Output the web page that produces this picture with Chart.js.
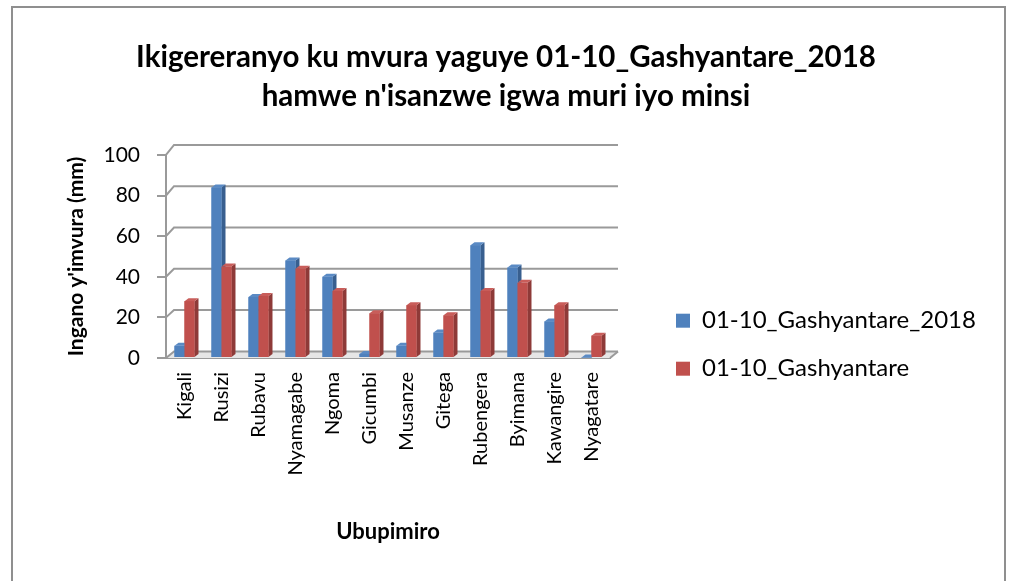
<!DOCTYPE html>
<html>
<head>
<meta charset="utf-8">
<script src="https://cdn.jsdelivr.net/npm/chart.js@4.4.1/dist/chart.umd.min.js"></script>
<style>
	html, body { margin: 0; padding: 0; background: #fff; }
</style>
</head>
<body>
<canvas id="cnv_rain" width="1010" height="581"></canvas>
<script>
// Stations (ubupimiro)
const stations = ['Kigali', 'Rusizi', 'Rubavu', 'Nyamagabe', 'Ngoma', 'Gicumbi', 'Musanze', 'Gitega', 'Rubengera', 'Byimana', 'Kawangire', 'Nyagatare'];
// rain 01-10 Feb 2018 (mm)
const rain2018 = [6, 84, 30, 48, 40, 2, 6, 12.5, 55.5, 44.5, 18, 0.3];
// normal rain for the same days (mm)
const rainNormal = [28, 45, 30.5, 44, 33, 22, 26, 21, 33, 37, 26, 11];
const seriesNames = ['01-10_Gashyantare_2018', '01-10_Gashyantare'];
const yTickValues = [0, 20, 40, 60, 80, 100];

const titleLines = ['Ikigereranyo ku mvura yaguye 01-10_Gashyantare_2018', "hamwe n'isanzwe igwa muri iyo minsi"];

Chart.defaults.font.family = 'Lato';
Chart.defaults.color = '#000';

const gridColor = '#9a9a9a';
//front, side, top colors for the 3d bars
const barColors = [
	{ front: '#4F81BD', side: '#385F8F', top: '#5A8AC4' },
	{ front: '#C0504D', side: '#8E3A38', top: '#C95D5A' }
];

//outer frame of the chart
const framePlugin = {
	id: 'frame',
	beforeDraw(chart) {
		const ctx = chart.ctx;
		ctx.save();
		ctx.fillStyle = '#fff';
		ctx.fillRect(0, 0, chart.width, chart.height);
		ctx.strokeStyle = '#8f8f8f';
		ctx.lineWidth = 2;
		ctx.strokeRect(12, 7, 993, 600);
		ctx.restore();
	}
};

//back wall, floor and the 3d bars
const wallsPlugin = {
	id: 'walls',
	beforeDatasetsDraw(chart) {
		const { ctx, chartArea: { left, right, top, bottom } } = chart;
		const yScale = chart.scales.y;
		const dx = 8;
		const depthY = (py) => -6.6 - 3.4 * (bottom - py) / (bottom - top);
		ctx.save();
		// floor
		const dyB = depthY(bottom);
		ctx.beginPath();
		ctx.moveTo(left, bottom);
		ctx.lineTo(right, bottom);
		ctx.lineTo(right + dx, bottom + dyB);
		ctx.lineTo(left + dx, bottom + dyB);
		ctx.closePath();
		ctx.fillStyle = '#e6e6e6';
		ctx.fill();
		ctx.strokeStyle = gridColor;
		ctx.lineWidth = 2;
		yScale.ticks.forEach(t => {
			const py = yScale.getPixelForValue(t.value);
			const dy = depthY(py);
			ctx.beginPath();
			ctx.moveTo(left, py);
			ctx.lineTo(left + dx, py + dy);
			ctx.lineTo(right + dx, py + dy);
			ctx.stroke();
		});
		ctx.beginPath();
		ctx.moveTo(right, bottom);
		ctx.lineTo(right + dx, bottom + dyB);
		ctx.stroke();
		ctx.restore();
	},
	afterDatasetsDraw(chart) {
		const ctx = chart.ctx;
		const bx = 4, by = 3;
		const metas = [chart.getDatasetMeta(0), chart.getDatasetMeta(1)];
		ctx.save();
		stations.forEach((_, i) => {
			metas.forEach((meta, d) => {
				const el = meta.data[i];
				const { x, y, base, width } = el.getProps(['x', 'y', 'base', 'width'], true);
				const l = x - width / 2, r = x + width / 2;
				const c = barColors[d];
				// side
				ctx.fillStyle = c.side;
				ctx.beginPath();
				ctx.moveTo(r, y); ctx.lineTo(r + bx, y - by); ctx.lineTo(r + bx, base - by); ctx.lineTo(r, base);
				ctx.closePath(); ctx.fill();
				// top
				ctx.fillStyle = c.top;
				ctx.beginPath();
				ctx.moveTo(l, y); ctx.lineTo(l + bx, y - by); ctx.lineTo(r + bx, y - by); ctx.lineTo(r, y);
				ctx.closePath(); ctx.fill();
				// front
				ctx.fillStyle = c.front;
				ctx.fillRect(l, y, width, base - y);
			});
		});
		ctx.restore();
	}
};

const ctx = document.getElementById('cnv_rain').getContext('2d');
const rainChart = new Chart(ctx, {
	type: 'bar',
	plugins: [framePlugin, wallsPlugin],
	data: {
		labels: stations,
		datasets: [{
			label: seriesNames[0],
			data: rain2018,
			backgroundColor: barColors[0].front,
			borderWidth: 0,
			barPercentage: 1,
			categoryPercentage: 0.54
		}, {
			label: seriesNames[1],
			data: rainNormal,
			backgroundColor: barColors[1].front,
			borderWidth: 0,
			barPercentage: 1,
			categoryPercentage: 0.54
		}]
	},
	options: {
		responsive: false,
		animation: false,
		layout: { padding: { left: 34, right: 32, top: 0, bottom: 36 } },
		plugins: {
			tooltip: { enabled: false },
			title: {
				display: true,
				text: titleLines,
				color: '#000',
				font: { size: 29.5, weight: 'bold', lineHeight: 1.32 },
				padding: { top: 38, bottom: 39 }
			},
			legend: {
				position: 'right',
				align: 'center',
				maxWidth: 326,
				title: { display: true, text: '', font: { size: 12 }, padding: { top: 130, bottom: 0 } },
				labels: {
					boxWidth: 14,
					boxHeight: 14,
					padding: 24,
					color: '#000',
					font: { size: 24 }
				}
			}
		},
		scales: {
			x: {
				grid: { drawOnChartArea: false, drawTicks: false },
				border: { color: gridColor, width: 2 },
				ticks: { minRotation: 90, maxRotation: 90, padding: 14, font: { size: 20 } },
				title: { display: true, text: 'Ubupimiro', font: { size: 22, weight: 'bold' }, padding: 0 },
				afterFit: s => { s.height = 187; }
			},
			y: {
				min: 0,
				max: 100,
				afterBuildTicks: s => { s.ticks = yTickValues.map(v => ({ value: v })); },
				ticks: { padding: 17, font: { size: 21 } },
				grid: { drawOnChartArea: false, tickLength: 9, color: gridColor, lineWidth: 2 },
				border: { color: gridColor, width: 2 },
				title: { display: true, text: "Ingano y'imvura (mm)", font: { size: 21, weight: 'bold' }, padding: { top: 30, bottom: 0 } },
				afterFit: s => { s.width = 132; }
			},
			yRight: {
				type: 'linear',
				position: 'right',
				grid: { display: false },
				ticks: { display: false },
				border: { display: false },
				afterFit: s => { s.width = 42; }
			}
		}
	}
});
</script>
</body>
</html>
